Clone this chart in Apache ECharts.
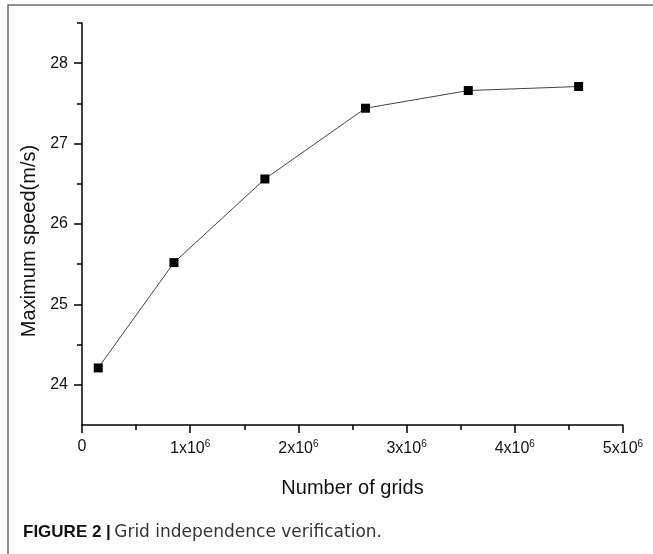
<!DOCTYPE html>
<html>
<head>
<meta charset="utf-8">
<style>
  html, body { margin: 0; padding: 0; background: #fff; }
  #chart { width: 653px; height: 554px; }
</style>
<script src="https://cdn.jsdelivr.net/npm/echarts@6/dist/echarts.min.js"></script>
</head>
<body>
<div id="chart"></div>
<script>
// Grid size (number of cells) and the maximum speed computed on each mesh
const gridCounts = [0.15e6, 0.85e6, 1.69e6, 2.62e6, 3.57e6, 4.59e6];
const maxSpeeds = [24.21, 25.52, 26.56, 27.44, 27.66, 27.71];

// Axis ticks
const xTicks = [0, 1e6, 2e6, 3e6, 4e6, 5e6];
const yMajorTicks = [24, 25, 26, 27, 28];
const yMinorTicks = [24.5, 25.5, 26.5, 27.5, 28.5];

const FONT = '"Liberation Sans", Arial, sans-serif';

const chart = echarts.init(document.getElementById('chart'), null, { renderer: 'canvas' });

const points = gridCounts.map((g, i) => [g, maxSpeeds[i]]);

chart.setOption({
  animation: false,
  backgroundColor: '#ffffff',
  grid: { left: 82, right: 30, top: 23, bottom: 129, containLabel: false },
  xAxis: {
    type: 'value',
    min: xTicks[0],
    max: xTicks[xTicks.length - 1],
    interval: 1e6,
    name: 'Number of grids',
    nameLocation: 'middle',
    nameGap: 53,
    nameTextStyle: { fontFamily: FONT, fontSize: 20, color: '#111' },
    axisLine: { show: true, onZero: false, lineStyle: { color: '#000', width: 1.5 } },
    axisTick: { show: true, inside: false, length: 8, lineStyle: { color: '#000', width: 1.5 } },
    minorTick: { show: true, splitNumber: 2, length: 5, lineStyle: { color: '#000', width: 1.5 } },
    splitLine: { show: false },
    axisLabel: {
      margin: 14,
      fontFamily: FONT,
      fontSize: 16,
      color: '#111',
      formatter: function (v) {
        if (v === 0) return '{b|0}';
        return '{b|' + Math.round(v / 1e6) + 'x10}{s|6}';
      },
      rich: {
        b: { fontFamily: FONT, fontSize: 16, color: '#111' },
        s: { fontFamily: FONT, fontSize: 10, color: '#111', padding: [0, 0, 9, 0] }
      }
    }
  },
  yAxis: [
    {
      type: 'value',
      min: 23.5,
      max: 28.5,
      name: 'Maximum speed(m/s)',
      nameLocation: 'middle',
      nameGap: 42,
      nameTextStyle: { fontFamily: FONT, fontSize: 20, color: '#111', padding: [0, 34, 0, 0] },
      axisLine: { show: true, onZero: false, lineStyle: { color: '#000', width: 1.5 } },
      axisTick: { show: true, length: 8, customValues: yMajorTicks, lineStyle: { color: '#000', width: 1.5 } },
      splitLine: { show: false },
      axisLabel: {
        customValues: yMajorTicks,
        margin: 14,
        fontFamily: FONT,
        fontSize: 16,
        color: '#111'
      }
    },
    {
      // half-unit minor ticks on the same scale
      type: 'value',
      min: 23.5,
      max: 28.5,
      position: 'left',
      axisLine: { show: false },
      axisTick: { show: true, length: 5, customValues: yMinorTicks, lineStyle: { color: '#000', width: 1.5 } },
      axisLabel: { show: false },
      splitLine: { show: false }
    }
  ],
  series: [{
    type: 'line',
    data: points,
    yAxisIndex: 0,
    symbol: 'rect',
    symbolSize: 9,
    itemStyle: { color: '#000' },
    lineStyle: { color: '#444', width: 1 },
    z: 3
  }],
  graphic: [
    {
      type: 'polyline',
      shape: { points: [[8, 554], [8, 5], [653, 5]] },
      style: { stroke: '#6b6b6b', lineWidth: 1.5, fill: null },
      silent: true
    },
    {
      type: 'text',
      left: 23,
      top: 524,
      style: {
        text: '{f|FIGURE 2 |} {t|Grid independence verification.}',
        rich: {
          f: { fontFamily: FONT, fontSize: 17, fontWeight: 'bold', fill: '#111' },
          t: { fontFamily: '"DejaVu Sans", sans-serif', fontSize: 17, fill: '#333' }
        }
      }
    }
  ]
});
</script>
</body>
</html>
